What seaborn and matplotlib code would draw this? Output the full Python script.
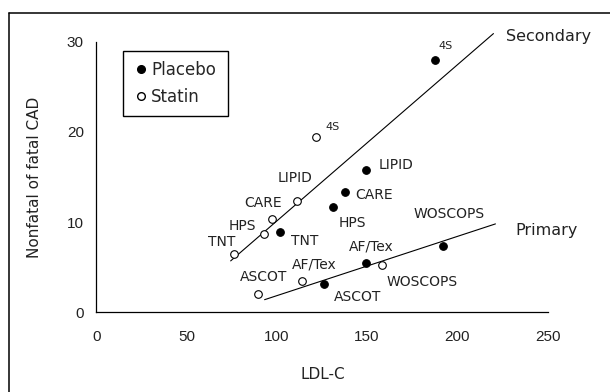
import matplotlib
matplotlib.use("Agg")
import matplotlib.pyplot as plt
from matplotlib.lines import Line2D
import seaborn as sns
import pandas as pd

# ---- data ----
trials = ["4S", "LIPID", "CARE", "HPS", "TNT", "AF/Tex", "WOSCOPS", "ASCOT"]
placebo_ldl = [187.4, 149.3, 137.8, 130.9, 101.6, 149.3, 191.8, 126.0]
placebo_cad = [28.0, 15.8, 13.3, 11.7, 8.9, 5.5, 7.4, 3.1]
statin_ldl = [121.7, 111.3, 97.3, 92.8, 76.1, 113.9, 158.3, 89.3]
statin_cad = [19.4, 12.3, 10.3, 8.7, 6.5, 3.5, 5.25, 2.0]

secondary_x = [74.4, 220.0]
secondary_y = [5.7, 30.9]
primary_x = [93.2, 221.1]
primary_y = [1.4, 9.8]

x_ticks = [0, 50, 100, 150, 200, 250]
y_ticks = [0, 10, 20, 30]

# label offsets (pixels) relative to each point
placebo_off = {"4S": (4, 14), "LIPID": (13, 5), "CARE": (10, -3), "HPS": (6, -16),
               "TNT": (11, -9), "AF/Tex": (-17, 16), "WOSCOPS": (-29, 32), "ASCOT": (10, -13)}
statin_off = {"4S": (9, 10), "LIPID": (-20, 23), "CARE": (-28, 16), "HPS": (-35, 8),
              "TNT": (-26, 12), "AF/Tex": (-10, 16), "WOSCOPS": (4, -17), "ASCOT": (-18, 17)}

sns.set_style("white")
plt.rcParams["font.family"] = ["DejaVu Sans"]

fig = plt.figure(figsize=(6.10, 3.92), dpi=100)
ax = fig.add_axes([0.158, 0.2033, 0.7397, 0.6903])

dfp = pd.DataFrame({"ldl": placebo_ldl, "cad": placebo_cad, "trial": trials})
dfs = pd.DataFrame({"ldl": statin_ldl, "cad": statin_cad, "trial": trials})
dsec = pd.DataFrame({"x": secondary_x, "y": secondary_y})
dpri = pd.DataFrame({"x": primary_x, "y": primary_y})

sns.lineplot(data=dsec, x="x", y="y", ax=ax, color="black", lw=0.8, clip_on=False)
sns.lineplot(data=dpri, x="x", y="y", ax=ax, color="black", lw=0.8, clip_on=False)
sns.scatterplot(data=dfp, x="ldl", y="cad", ax=ax, s=30, color="black",
                edgecolor="black", linewidth=0.8, zorder=3, clip_on=False)
sns.scatterplot(data=dfs, x="ldl", y="cad", ax=ax, s=30, facecolor="white",
                edgecolor="black", linewidth=0.8, zorder=3, clip_on=False)

for t, x, y in zip(trials, placebo_ldl, placebo_cad):
    dx, dy = placebo_off[t]
    fs = 8 if t == "4S" else 10
    ax.annotate(t, (x, y), xytext=(dx, dy), textcoords="offset pixels",
                ha="left", va="center", fontsize=fs, color="#222222")
for t, x, y in zip(trials, statin_ldl, statin_cad):
    dx, dy = statin_off[t]
    fs = 8 if t == "4S" else 10
    ax.annotate(t, (x, y), xytext=(dx, dy), textcoords="offset pixels",
                ha="left", va="center", fontsize=fs, color="#222222")

ax.text(227, 30.6, "Secondary", ha="left", va="center", fontsize=11.5, color="#222222")
ax.text(232.3, 9.05, "Primary", ha="left", va="center", fontsize=11.5, color="#222222")

ax.set_xlim(0, 250)
ax.set_ylim(0, 30)
ax.set_xticks(x_ticks)
ax.set_yticks(y_ticks)
for sp in ["top", "right"]:
    ax.spines[sp].set_visible(False)
for sp in ["left", "bottom"]:
    ax.spines[sp].set_color("black")
    ax.spines[sp].set_linewidth(0.9)
ax.tick_params(axis="both", direction="in", length=5, width=0.9, color="black")
ax.tick_params(axis="x", pad=12.5)
ax.tick_params(axis="y", pad=9)
for lbl in ax.get_xticklabels() + ax.get_yticklabels():
    lbl.set_fontfamily("Liberation Sans")
    lbl.set_fontsize(11)
    lbl.set_color("#222222")

ax.set_xlabel("LDL-C", fontsize=11, color="#222222")
ax.set_ylabel("Nonfatal of fatal CAD", fontsize=11, color="#222222")
ax.xaxis.set_label_coords(0.502, -0.202)
ax.yaxis.set_label_coords(-0.121, 0.5)

handles = [Line2D([], [], marker="o", ls="", markerfacecolor="black", markeredgecolor="black", markersize=5.5),
           Line2D([], [], marker="o", ls="", markerfacecolor="white", markeredgecolor="black", markersize=5.5)]
leg = ax.legend(handles, ["Placebo", "Statin"], loc="upper left",
                bbox_to_anchor=(0.0588, 0.9667, 0.2328, 0.0), mode="expand",
                fontsize=12, frameon=True, fancybox=False, framealpha=1,
                edgecolor="black", borderpad=0.6, labelspacing=0.55,
                handletextpad=0.1, handlelength=1.0, borderaxespad=0)
leg.get_frame().set_linewidth(1.0)

fig.add_artist(Line2D([9 / 610, 9 / 610], [0, 1 - 12.5 / 392], transform=fig.transFigure,
                      color="black", lw=1.1))
fig.add_artist(Line2D([9 / 610, 1], [1 - 12.5 / 392, 1 - 12.5 / 392], transform=fig.transFigure,
                      color="black", lw=1.1))

fig.savefig("out.png", dpi=100)
